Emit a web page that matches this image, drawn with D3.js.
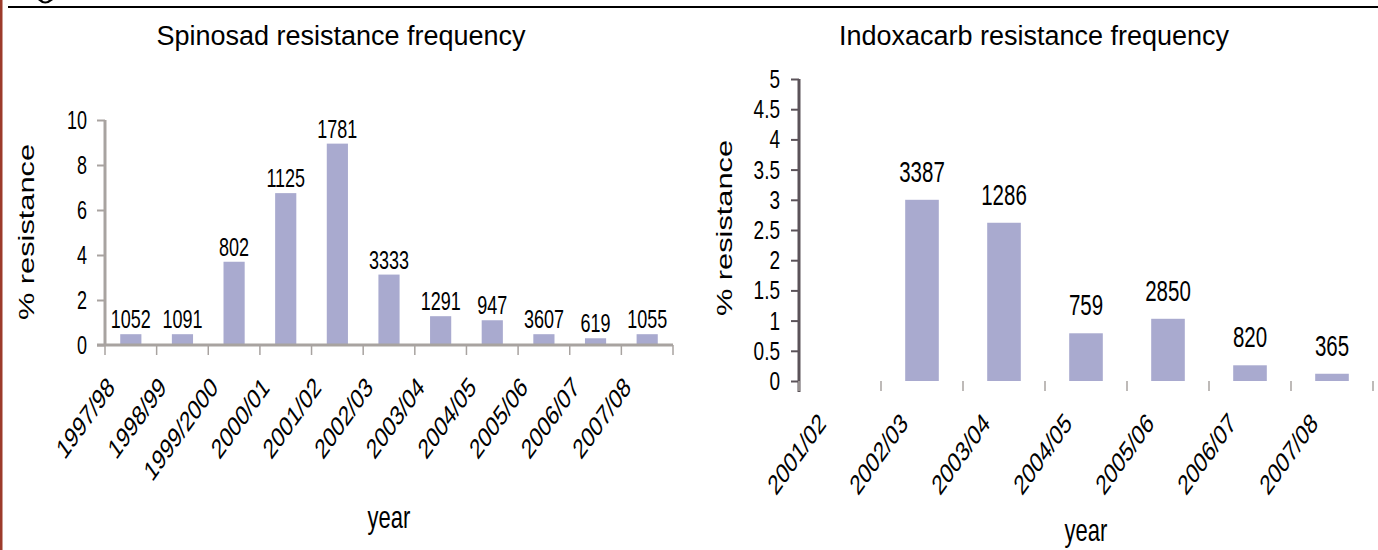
<!DOCTYPE html>
<html>
<head>
<meta charset="utf-8">
<script src="https://cdn.jsdelivr.net/npm/d3@7"></script>
<style>
	body { margin: 0; background: #fff; }
	svg { display: block; }
	text { font-family: "Liberation Sans", Arial, sans-serif; fill: #000; }
</style>
</head>
<body>
<div id="chart"></div>
<script>
// spinosad panel
var spinosadYears = ['1997/98', '1998/99', '1999/2000', '2000/01', '2001/02', '2002/03', '2003/04', '2004/05', '2005/06', '2006/07', '2007/08'];
var spinosadValues = [0.48, 0.48, 3.7, 6.75, 8.95, 3.13, 1.28, 1.1, 0.48, 0.3, 0.48];
var spinosadCounts = ['1052', '1091', '802', '1125', '1781', '3333', '1291', '947', '3607', '619', '1055'];
var spinosadTicks = [0, 2, 4, 6, 8, 10];

// indoxacarb panel
var indoxacarbYears = ['2001/02', '2002/03', '2003/04', '2004/05', '2005/06', '2006/07', '2007/08'];
var indoxacarbValues = [0, 3.0, 2.62, 0.79, 1.03, 0.26, 0.12];
var indoxacarbCounts = ['', '3387', '1286', '759', '2850', '820', '365'];
var indoxacarbTicks = [0, 0.5, 1, 1.5, 2, 2.5, 3, 3.5, 4, 4.5, 5];

var svgWidth = 1378;
var svgHeight = 550;
var STRETCH = 1.4; // the source picture is squashed vertically, text looks tall
var barColor = '#a9aacf';

var chartArea = d3.select('#chart')
	.append('svg')
	.attr('width', svgWidth)
	.attr('height', svgHeight)
;

// figure frame bits
chartArea.append('rect')
	.attr('x', 0).attr('y', 0)
	.attr('width', 2.5).attr('height', svgHeight)
	.style('fill', '#9c3b2b')
;
chartArea.append('line')
	.attr('x1', 8).attr('x2', svgWidth)
	.attr('y1', 7).attr('y2', 7)
	.attr('stroke', '#000')
	.attr('stroke-width', 2)
;
// bottom of a cropped letter above the rule
chartArea.append('path')
	.attr('d', 'M38,0 Q45,7 53,0 L49,0 Q45,3 42,0 Z')
	.style('fill', '#000')
;

drawPanel(chartArea, {
	x0: 105, x1: 673, y0: 345, y1: 120, max: 10,
	title: 'Spinosad resistance frequency', titleX: 341,
	axisColor: '#a8a3a0', baseline: true,
	tickPadding: 10, tickFont: 18, countFont: 18, countGap: 6,
	yTitleX: 26, yTitleY: 232, yearY: 528, labelDx: -15, labelDy: 44
}, spinosadYears, spinosadValues, spinosadCounts, spinosadTicks);

drawPanel(chartArea, {
	x0: 799, x1: 1373, y0: 381, y1: 79, max: 5,
	title: 'Indoxacarb resistance frequency', titleX: 1034,
	axisColor: '#5b5359', baseline: false,
	tickPadding: 11, tickFont: 19, countFont: 20.5, countGap: 18,
	yTitleX: 724, yTitleY: 228, yearY: 541, labelDx: -13, labelDy: 44
}, indoxacarbYears, indoxacarbValues, indoxacarbCounts, indoxacarbTicks);

function drawPanel(canvas, prop, cats, values, counts, ticks) {
	var rows = cats.map(function(c, i) {
		return { cat: c, value: values[i], count: counts[i] };
	});

	var x = d3.scaleBand()
		.domain(cats)
		.range([prop.x0, prop.x1])
		.paddingInner(0.59)
		.paddingOuter(0.295)
	;
	var y = d3.scaleLinear()
		.domain([0, prop.max])
		.range([prop.y0, prop.y1])
	;

	var g = canvas.append('g');

	// title
	g.append('text')
		.attr('x', prop.titleX)
		.attr('y', 45)
		.style('text-anchor', 'middle')
		.style('font-size', '27px')
		.text(prop.title)
	;

	// bars
	g.selectAll('.bar')
		.data(rows)
		.enter()
		.append('rect')
		.attr('class', 'bar')
		.attr('x', function(d) { return x(d.cat); })
		.attr('y', function(d) { return y(d.value); })
		.attr('width', x.bandwidth())
		.attr('height', function(d) { return y(0) - y(d.value); })
		.style('fill', barColor)
	;

	// sample sizes above the bars
	g.selectAll('.count')
		.data(rows)
		.enter()
		.append('text')
		.attr('class', 'count')
		.attr('transform', function(d) {
			return 'translate(' + (x(d.cat) + x.bandwidth() / 2) + ',' + (y(d.value) - prop.countGap) + ') scale(1,' + STRETCH + ')';
		})
		.style('text-anchor', 'middle')
		.style('font-size', prop.countFont + 'px')
		.text(function(d) { return d.count; })
	;

	// y axis
	var yAxis = g.append('g')
		.attr('transform', 'translate(' + prop.x0 + ',0)')
		.call(d3.axisLeft(y)
			.tickValues(ticks)
			.tickSize(8)
			.tickSizeOuter(0)
			.tickPadding(prop.tickPadding)
			.tickFormat(d3.format('')))
	;
	yAxis.select('.domain').remove();
	yAxis.selectAll('line')
		.attr('stroke', prop.axisColor)
		.attr('stroke-width', 2)
	;
	yAxis.selectAll('text')
		.attr('transform', 'scale(1,' + STRETCH + ')')
		.style('font-size', prop.tickFont + 'px')
		.style('font-family', '"Liberation Sans", Arial, sans-serif')
	;
	g.append('line')
		.attr('x1', prop.x0).attr('x2', prop.x0)
		.attr('y1', y(prop.max))
		.attr('y2', prop.baseline ? y(0) : y(0) + 11)
		.attr('stroke', prop.axisColor)
		.attr('stroke-width', 3)
	;

	// x axis line (only the left panel has one)
	if (prop.baseline) {
		g.append('line')
			.attr('x1', prop.x0 - 8).attr('x2', prop.x1)
			.attr('y1', y(0)).attr('y2', y(0))
			.attr('stroke', prop.axisColor)
			.attr('stroke-width', 3)
		;
	}

	// ticks between the categories
	var bounds = d3.range(cats.length + 1).map(function(i) {
		return prop.x0 + i * x.step();
	});
	g.selectAll('.xtick')
		.data(bounds)
		.enter()
		.append('line')
		.attr('class', 'xtick')
		.attr('x1', function(d) { return d; })
		.attr('x2', function(d) { return d; })
		.attr('y1', y(0))
		.attr('y2', y(0) + 10)
		.attr('stroke', '#a8a3a0')
		.attr('stroke-width', 1.5)
	;

	// rotated year labels
	var xAxis = g.append('g')
		.attr('transform', 'translate(0,' + y(0) + ')')
		.call(d3.axisBottom(x).tickSize(0))
	;
	xAxis.select('.domain').remove();
	xAxis.selectAll('text')
		.attr('x', 0)
		.attr('y', 0)
		.attr('dy', 0)
		.attr('transform', 'translate(' + prop.labelDx + ',' + prop.labelDy + ') scale(1,' + STRETCH + ') rotate(-45)')
		.style('text-anchor', 'end')
		.style('font-size', '20px')
		.style('font-family', '"Liberation Sans", Arial, sans-serif')
	;

	// axis titles
	g.append('text')
		.attr('transform', 'translate(' + prop.yTitleX + ',' + prop.yTitleY + ') scale(1,' + STRETCH + ') rotate(-90)')
		.attr('dy', '0.35em')
		.style('text-anchor', 'middle')
		.style('font-size', '22px')
		.text('% resistance')
	;
	g.append('text')
		.attr('transform', 'translate(' + ((prop.x0 + prop.x1) / 2) + ',' + prop.yearY + ') scale(1,' + STRETCH + ')')
		.style('text-anchor', 'middle')
		.style('font-size', '22px')
		.text('year')
	;
}
</script>
</body>
</html>
